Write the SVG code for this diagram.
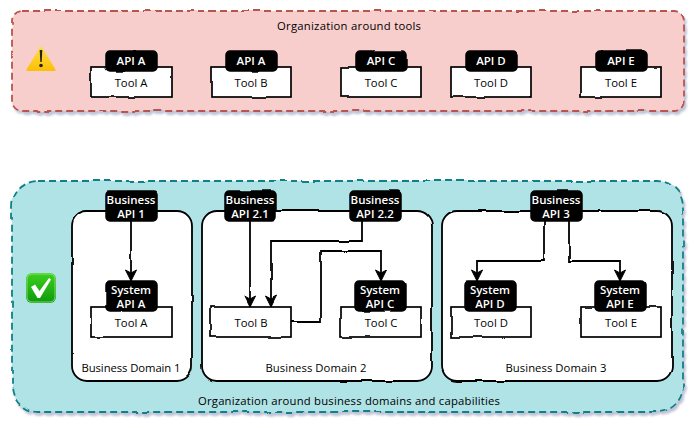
<svg xmlns="http://www.w3.org/2000/svg" width="698" height="428" viewBox="0 0 698 428">
<style>
text{font-family:"Open Sans","Noto Sans","Liberation Sans",sans-serif;font-size:11.300px;text-anchor:middle;fill:#000}
.api text{fill:#fff;font-size:11.500px;font-weight:600}
.box{fill:#fff;stroke:#000;stroke-width:1.700;filter:url(#sk)}
.api rect{fill:#000;stroke:#000;stroke-width:1.500;filter:url(#sk)}
.dom{fill:#fff;stroke:#000;stroke-width:1.800;filter:url(#sk)}
.con{fill:none;stroke:#000;stroke-width:1.800;filter:url(#sk)}
.red{fill:#f8cecc;stroke:#b85450;stroke-width:1.800;stroke-dasharray:7 4;filter:url(#sks)}
.teal{fill:#b0e3e6;stroke:#0e8088;stroke-width:1.800;stroke-dasharray:7 4;filter:url(#sks)}
</style>
<defs>
<filter id="sk" filterUnits="userSpaceOnUse" x="0" y="0" width="698" height="428">
<feTurbulence type="fractalNoise" baseFrequency="0.045" numOctaves="1" seed="4" result="n"/>
<feDisplacementMap in="SourceGraphic" in2="n" scale="3" xChannelSelector="R" yChannelSelector="G"/>
</filter>
<filter id="sks" filterUnits="userSpaceOnUse" x="0" y="0" width="698" height="428">
<feTurbulence type="fractalNoise" baseFrequency="0.035" numOctaves="1" seed="7" result="n"/>
<feDisplacementMap in="SourceGraphic" in2="n" scale="3" xChannelSelector="R" yChannelSelector="G" result="d"/>
<feGaussianBlur in="d" stdDeviation="1.200" result="b"/>
<feOffset in="b" dx="2" dy="3" result="o"/>
<feFlood flood-color="#8b93b5" flood-opacity="0.55"/>
<feComposite in2="o" operator="in" result="s"/>
<feMerge><feMergeNode in="s"/><feMergeNode in="d"/></feMerge>
</filter>
<marker id="arr" markerUnits="userSpaceOnUse" markerWidth="14" markerHeight="14" refX="12" refY="7" orient="auto">
<path d="M1 1.500 L12 7 L1 12.500 L4 7 Z" fill="#000" stroke="#000" stroke-width="1"/>
</marker>
<linearGradient id="wg" x1="0" y1="0" x2="0" y2="1"><stop offset="0" stop-color="#ffe04a"/><stop offset="1" stop-color="#fbbf05"/></linearGradient>
<linearGradient id="cg" x1="0" y1="0" x2="0" y2="1"><stop offset="0" stop-color="#3fd01f"/><stop offset="1" stop-color="#0c9a0c"/></linearGradient>
</defs>

<g id="container-tools">
<rect class="red" x="12" y="11" width="672" height="100" rx="10"/>
<text x="349" y="30" textLength="144">Organization around tools</text>
</g>
<g id="container-domains">
<rect class="teal" x="12" y="181" width="671" height="231" rx="26"/>
<text x="349" y="405" textLength="302">Organization around business domains and capabilities</text>
</g>

<g id="warning-icon">
<path d="M41 45.500 L55.500 69.500 Q55.800 71 54 71 L28 71 Q26.200 71 26.500 69.500 Z" fill="url(#wg)"/>
<path d="M39.700 50 L42.300 50 L41.700 62 L40.300 62 Z" fill="#222"/>
<circle cx="41" cy="65.500" r="1.800" fill="#222"/>
</g>
<g id="check-icon">
<rect x="26" y="273" width="30" height="30" rx="6" fill="url(#cg)"/>
<rect x="27" y="274" width="28" height="28" rx="5" fill="none" stroke="#9be28a" stroke-width="0.800"/>
<path d="M31 287 L35 284.500 L39.500 291 L49 278 L51 279.500 L40 298 L37.500 298 Z" fill="#fff"/>
</g>

<g id="domain-1"><rect class="dom" x="72" y="211" width="120" height="170" rx="15"/><text x="131" y="372" textLength="99">Business Domain 1</text></g>
<g id="domain-2"><rect class="dom" x="202" y="211" width="230" height="170" rx="15"/><text x="316" y="372" textLength="101">Business Domain 2</text></g>
<g id="domain-3"><rect class="dom" x="442" y="211" width="230" height="170" rx="15"/><text x="556" y="372" textLength="101">Business Domain 3</text></g>

<g id="connectors" class="con">
<path d="M131 221 V281" marker-end="url(#arr)"/>
<path d="M250 221 V307" marker-end="url(#arr)"/>
<path d="M362 221 V241 H271 V307" marker-end="url(#arr)"/>
<path d="M291 322 H321 V251 H381 V281" marker-end="url(#arr)"/>
<path d="M544 221 V261 H477 V281" marker-end="url(#arr)"/>
<path d="M569 221 V261 H620 V281" marker-end="url(#arr)"/>
</g>

<g id="top-tool-a"><rect class="box" x="91" y="67" width="81" height="30"/><text x="131" y="87">Tool A</text></g>
<g id="top-tool-b"><rect class="box" x="211" y="67" width="80" height="30"/><text x="251" y="87">Tool B</text></g>
<g id="top-tool-c"><rect class="box" x="341" y="67" width="80" height="30"/><text x="381" y="87">Tool C</text></g>
<g id="top-tool-d"><rect class="box" x="451" y="67" width="80" height="30"/><text x="491" y="87">Tool D</text></g>
<g id="top-tool-e"><rect class="box" x="581" y="67" width="80" height="30"/><text x="621" y="87">Tool E</text></g>
<g id="top-api-a1" class="api"><rect x="106" y="51" width="51" height="20" rx="4"/><text x="131" y="65">API A</text></g>
<g id="top-api-a2" class="api"><rect x="226" y="51" width="51" height="20" rx="4"/><text x="251" y="65">API A</text></g>
<g id="top-api-c" class="api"><rect x="356" y="51" width="51" height="20" rx="4"/><text x="381" y="65">API C</text></g>
<g id="top-api-d" class="api"><rect x="466" y="51" width="51" height="20" rx="4"/><text x="491" y="65">API D</text></g>
<g id="top-api-e" class="api"><rect x="596" y="51" width="51" height="20" rx="4"/><text x="621" y="65">API E</text></g>

<g id="tool-a"><rect class="box" x="91" y="307" width="81" height="30"/><text x="131" y="327">Tool A</text></g>
<g id="tool-b"><rect class="box" x="211" y="307" width="80" height="30"/><text x="251" y="327">Tool B</text></g>
<g id="tool-c"><rect class="box" x="340" y="307" width="81" height="30"/><text x="381" y="327">Tool C</text></g>
<g id="tool-d"><rect class="box" x="451" y="307" width="80" height="30"/><text x="491" y="327">Tool D</text></g>
<g id="tool-e"><rect class="box" x="581" y="307" width="80" height="30"/><text x="621" y="327">Tool E</text></g>

<g id="business-api-1" class="api"><rect x="106" y="191" width="51" height="30" rx="4"/><text x="131" y="204">Business</text><text x="131" y="218">API 1</text></g>
<g id="business-api-21" class="api"><rect x="225" y="191" width="51" height="30" rx="4"/><text x="250" y="204">Business</text><text x="250" y="218">API 2.1</text></g>
<g id="business-api-22" class="api"><rect x="350" y="191" width="51" height="30" rx="4"/><text x="375" y="204">Business</text><text x="375" y="218">API 2.2</text></g>
<g id="business-api-3" class="api"><rect x="531" y="191" width="51" height="30" rx="4"/><text x="556" y="204">Business</text><text x="556" y="218">API 3</text></g>
<g id="system-api-a" class="api"><rect x="106" y="281" width="51" height="30" rx="4"/><text x="131" y="294">System</text><text x="131" y="308">API A</text></g>
<g id="system-api-c" class="api"><rect x="355" y="281" width="51" height="30" rx="4"/><text x="380" y="294">System</text><text x="380" y="308">API C</text></g>
<g id="system-api-d" class="api"><rect x="465" y="281" width="51" height="30" rx="4"/><text x="490" y="294">System</text><text x="490" y="308">API D</text></g>
<g id="system-api-e" class="api"><rect x="595" y="281" width="51" height="30" rx="4"/><text x="620" y="294">System</text><text x="620" y="308">API E</text></g>
</svg>
